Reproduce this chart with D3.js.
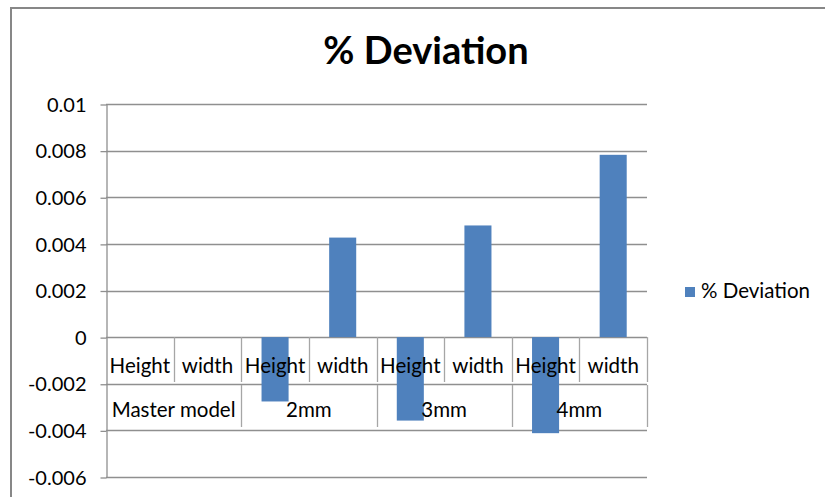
<!DOCTYPE html>
<html>
<head>
<meta charset="utf-8">
<script src="https://cdn.jsdelivr.net/npm/d3@7"></script>
<style>
  html, body { margin: 0; padding: 0; background: #ffffff; }
  svg { display: block; }
  text { font-family: Lato, "Open Sans", sans-serif; fill: #000; }
</style>
</head>
<body>
<svg id="chart" width="825" height="497"></svg>
<script>
// Category labels (inner level) and their groups (outer level)
const categories = ["Height", "width", "Height", "width", "Height", "width", "Height", "width"];
const groups = ["Master model", "2mm", "3mm", "4mm"];
const groupSizes = [2, 2, 2, 2];

// % Deviation per category
const seriesName = "% Deviation";
const values = [0, 0, -0.00276, 0.00427, -0.00358, 0.00479, -0.00412, 0.00782];

// Value axis ticks
const yTicks = [-0.006, -0.004, -0.002, 0, 0.002, 0.004, 0.006, 0.008, 0.01];
const yTickLabels = ["-0.006", "-0.004", "-0.002", "0", "0.002", "0.004", "0.006", "0.008", "0.01"];

const svg = d3.select("#chart");
const W = 825, H = 497;
const plot = { left: 106, right: 647, top: 104, bottom: 477 };
const gridColor = "#8f8f8f";
const barColor = "#4f81bd";
const labelSize = 20.5;

// Chart area frame
svg.append("rect")
  .attr("x", 11).attr("y", 8)
  .attr("width", W + 20).attr("height", H + 20)
  .attr("fill", "#fff")
  .attr("stroke", "#878787").attr("stroke-width", 2);

const y = d3.scaleLinear().domain([-0.006, 0.01]).range([plot.bottom, plot.top]);
const xCat = d3.scaleBand().domain(d3.range(categories.length)).range([plot.left, plot.right]).padding(0);
const xBar = d3.scaleBand().domain(d3.range(categories.length)).range([plot.left, plot.right])
  .paddingInner(0.6).paddingOuter(0.3);

// Horizontal gridlines
svg.append("g").selectAll("line").data(yTicks).join("line")
  .attr("x1", plot.left).attr("x2", plot.right)
  .attr("y1", d => Math.round(y(d)) + 0.5).attr("y2", d => Math.round(y(d)) + 0.5)
  .attr("stroke", gridColor).attr("stroke-width", 1.3);

// Value axis
const yAxis = d3.axisLeft(y)
  .tickValues(yTicks)
  .tickFormat((d, i) => yTickLabels[i])
  .tickSizeInner(6).tickSizeOuter(0).tickPadding(14);
const gy = svg.append("g").attr("transform", `translate(${plot.left + 0.5},0)`).call(yAxis);
gy.select(".domain").attr("stroke", gridColor).attr("stroke-width", 1.3);
gy.selectAll(".tick line").attr("stroke", gridColor).attr("stroke-width", 1.3)
  .attr("transform", "translate(0,0.5)");
gy.selectAll(".tick text")
  .attr("font-family", "Lato, 'Open Sans', sans-serif")
  .attr("font-size", 20).attr("fill", "#000")
  .attr("dy", "0.36em");

// Bars
svg.append("g").selectAll("rect").data(values).join("rect")
  .attr("x", (d, i) => xBar(i))
  .attr("width", xBar.bandwidth())
  .attr("y", d => y(Math.max(0, d)))
  .attr("height", d => Math.abs(y(d) - y(0)))
  .attr("fill", barColor);

// Multi-level category table
const row1Top = y(0), row1Bottom = 382, row2Top = 385, row2Bottom = 427;
const cat = svg.append("g");
// inner-level separators
cat.selectAll("line.inner").data(d3.range(1, categories.length + 1)).join("line")
  .attr("class", "inner")
  .attr("x1", i => Math.round(plot.left + i * xCat.step()) + 0.5)
  .attr("x2", i => Math.round(plot.left + i * xCat.step()) + 0.5)
  .attr("y1", row1Top).attr("y2", row1Bottom)
  .attr("stroke", "#a6a6a6").attr("stroke-width", 1.3);
// outer-level separators
const groupEnds = d3.cumsum(groupSizes);
cat.selectAll("line.outer").data(Array.from(groupEnds)).join("line")
  .attr("class", "outer")
  .attr("x1", n => Math.round(plot.left + n * xCat.step()) + 0.5)
  .attr("x2", n => Math.round(plot.left + n * xCat.step()) + 0.5)
  .attr("y1", row2Top).attr("y2", row2Bottom)
  .attr("stroke", "#a6a6a6").attr("stroke-width", 1.3);

cat.selectAll("text.inner").data(categories).join("text")
  .attr("class", "inner")
  .attr("x", (d, i) => xCat(i) + xCat.bandwidth() / 2)
  .attr("y", 373)
  .attr("text-anchor", "middle")
  .attr("font-size", labelSize)
  .text(d => d);

const groupStarts = [0, ...Array.from(groupEnds).slice(0, -1)];
cat.selectAll("text.outer").data(groups).join("text")
  .attr("class", "outer")
  .attr("x", (d, i) => plot.left + (groupStarts[i] + groupSizes[i] / 2) * xCat.step())
  .attr("y", 417)
  .attr("text-anchor", "middle")
  .attr("font-size", labelSize)
  .text(d => d);

// Title
svg.append("text")
  .attr("x", 426).attr("y", 64)
  .attr("text-anchor", "middle")
  .attr("font-size", 38).attr("font-weight", "bold")
  .text(seriesName);

// Legend
const lg = svg.append("g");
lg.append("rect").attr("x", 685).attr("y", 287).attr("width", 10).attr("height", 10).attr("fill", barColor);
lg.append("text").attr("x", 701).attr("y", 297.5).attr("font-size", labelSize).text(seriesName);
</script>
</body>
</html>
